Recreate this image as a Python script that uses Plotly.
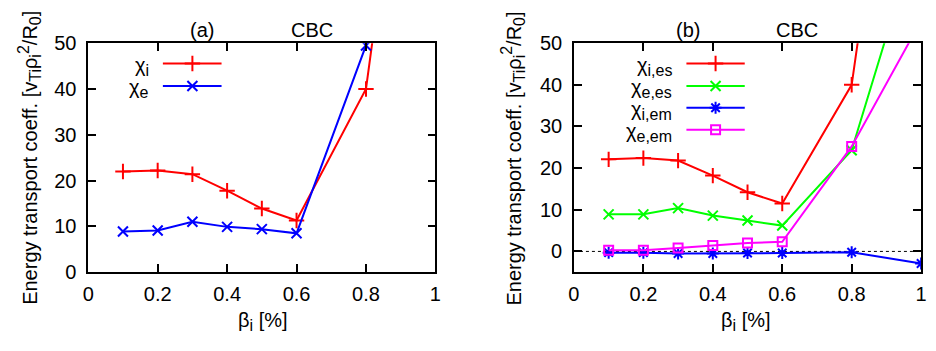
import plotly.graph_objects as go

# ---------------- data ----------------
beta = [0.1, 0.2, 0.3, 0.4, 0.5, 0.6, 0.8, 1.0]

# panel (a)
chi_i = [22.0, 22.2, 21.4, 17.8, 13.9, 11.3, 40.0, 152.0]
chi_e = [8.9, 9.1, 11.0, 9.9, 9.4, 8.5, 49.5, 135.0]

# panel (b)
chi_i_es = [22.1, 22.4, 21.8, 18.2, 14.2, 11.5, 40.0, 157.0]
chi_e_es = [8.9, 8.9, 10.4, 8.6, 7.4, 6.2, 24.3, 79.0]
chi_i_em = [-0.3, -0.3, -0.5, -0.5, -0.4, -0.4, -0.2, -2.9]
chi_e_em = [0.3, 0.3, 0.8, 1.4, 2.0, 2.3, 25.2, 55.4]

x_ticks = [0, 0.2, 0.4, 0.6, 0.8, 1]
x_ticklabels = ["0", "0.2", "0.4", "0.6", "0.8", "1"]
y_ticks = [0, 10, 20, 30, 40, 50]

# ---------------- styles ----------------
RED, BLUE, GREEN, MAG = "#ff0000", "#0000ff", "#00ff00", "#ff00ff"
FONT = "Liberation Sans, Arial, Helvetica, sans-serif"
FS = 20
W, H = 936, 351

# plot area in pixels
A_L, A_R = 83.3, 435.0
B_L, B_R = 575.3, 927.0
P_T, P_B = 34.3, 278.7

def px(x):
    return x / W

def py(y):
    return 1 - y / H

def sub(s):
    return "<sub><span style='font-size:16px'>%s</span></sub>" % s

def sup(s):
    return "<sup><span style='font-size:16px'>%s</span></sup>" % s

series_a = [("χ" + sub("i"), chi_i, RED, "cross-thin-open", 11),
            ("χ" + sub("e"), chi_e, BLUE, "x-thin-open", 10)]
series_b = [("χ" + sub("i,es"), chi_i_es, RED, "cross-thin-open", 11),
            ("χ" + sub("e,es"), chi_e_es, GREEN, "x-thin-open", 10),
            ("χ" + sub("i,em"), chi_i_em, BLUE, "asterisk-open", 10),
            ("χ" + sub("e,em"), chi_e_em, MAG, "square-open", 9)]

fig = go.Figure()

def add_series(series, xa, ya):
    for name, vals, col, sym, sz in series:
        fig.add_trace(go.Scatter(
            x=beta, y=vals, mode="lines+markers",
            xaxis=xa, yaxis=ya, showlegend=False,
            line=dict(color=col, width=2),
            marker=dict(symbol=sym, size=sz, color=col,
                        line=dict(color=col, width=2)),
        ))

add_series(series_a, "x", "y")
add_series(series_b, "x2", "y2")

# ---------------- manual gnuplot-style legends ----------------
leg_a = dict(x0=0.215, xm=0.300, x1=0.384, xt=0.180, rows=[0.911, 0.813])
leg_b = dict(x0=0.324, xm=0.408, x1=0.492, xt=0.288, rows=[0.911, 0.813, 0.718, 0.622])

annotations = []

def add_legend(series, leg, xa, ya, xref, yref):
    for (name, vals, col, sym, sz), r in zip(series, leg["rows"]):
        fig.add_trace(go.Scatter(
            x=[leg["x0"], leg["x1"]], y=[r, r], mode="lines",
            xaxis=xa, yaxis=ya, showlegend=False, hoverinfo="skip",
            line=dict(color=col, width=2)))
        fig.add_trace(go.Scatter(
            x=[leg["xm"]], y=[r], mode="markers",
            xaxis=xa, yaxis=ya, showlegend=False, hoverinfo="skip",
            marker=dict(symbol=sym, size=sz, color=col,
                        line=dict(color=col, width=2))))
        annotations.append(dict(
            text=name, x=leg["xt"], y=r - 0.012, xref=xref, yref=yref,
            xanchor="right", yanchor="middle", showarrow=False,
            font=dict(family=FONT, size=FS, color="black")))

add_legend(series_a, leg_a, "x3", "y3", "x domain", "y domain")
add_legend(series_b, leg_b, "x4", "y4", "x2 domain", "y2 domain")

# ---------------- axes ----------------
dom_a = [px(A_L), px(A_R)]
dom_b = [px(B_L), px(B_R)]
dom_y = [py(P_B), py(P_T)]

axis_common = dict(
    showline=True, linecolor="black", linewidth=1.5, mirror="ticks",
    ticks="inside", ticklen=8, tickwidth=1.5, tickcolor="black",
    showgrid=False, zeroline=False,
    tickfont=dict(family=FONT, size=FS, color="black"),
)
xstyle = dict(axis_common, ticklabelstandoff=3)
ystyle = dict(axis_common, ticklabelstandoff=6)

fig.update_layout(
    width=W, height=H, margin=dict(l=0, r=0, t=0, b=0),
    paper_bgcolor="white", plot_bgcolor="white",
    xaxis=dict(domain=dom_a, range=[0, 1], anchor="y",
               tickvals=x_ticks, ticktext=x_ticklabels, **xstyle),
    yaxis=dict(domain=dom_y, range=[0, 50], anchor="x",
               tickvals=y_ticks, **ystyle),
    xaxis2=dict(domain=dom_b, range=[0, 1], anchor="y2",
                tickvals=x_ticks, ticktext=x_ticklabels, **xstyle),
    yaxis2=dict(domain=dom_y, range=[-5, 50], anchor="x2",
                tickvals=y_ticks, **ystyle),
    xaxis3=dict(overlaying="x", range=[0, 1], visible=False, anchor="y3"),
    yaxis3=dict(overlaying="y", range=[0, 1], visible=False, anchor="x3"),
    xaxis4=dict(overlaying="x2", range=[0, 1], visible=False, anchor="y4"),
    yaxis4=dict(overlaying="y2", range=[0, 1], visible=False, anchor="x4"),
)

# dotted zero line in panel (b)
fig.add_shape(type="line", xref="x2 domain", yref="y2", x0=0, x1=1, y0=0, y1=0,
              line=dict(color="black", width=1, dash="dot"), layer="below")

def txt(s, x, y, angle=0, size=FS):
    annotations.append(dict(text=s, x=px(x), y=py(y), xref="paper", yref="paper",
                            xanchor="center", yanchor="middle", showarrow=False,
                            textangle=angle,
                            font=dict(family=FONT, size=size, color="black")))

ytitle = ("Energy transport coeff. [v" + sub("Ti") + "ρ" + sub("i") + sup("2")
          + "/R" + sub("0") + "]")
xtitle = "β" + sub("i") + " [%]"

txt("(a)", 199, 20.5)
txt("CBC", 310, 20.5)
txt("(b)", 691, 20.5)
txt("CBC", 801.7, 20.5)
txt(xtitle, 260, 331)
txt(xtitle, 750, 331)
txt(ytitle, 24, 157, -90)
txt(ytitle, 514, 157, -90)

fig.update_layout(annotations=annotations)

fig.write_html("out.html")
